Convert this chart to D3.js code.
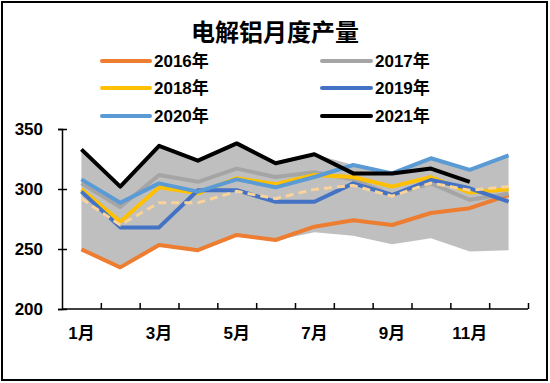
<!DOCTYPE html>
<html><head><meta charset="utf-8">
<script src="https://cdn.jsdelivr.net/npm/d3@7"></script>
<style>
html,body{margin:0;padding:0;background:#fff;}
svg{display:block;}
text{font-family:"Liberation Sans","Noto Sans CJK SC",sans-serif;font-weight:bold;fill:#000;}
</style></head>
<body>
<svg id="chart" width="550" height="383"></svg>
<script>
const title = "电解铝月度产量";
const months = ["1月","2月","3月","4月","5月","6月","7月","8月","9月","10月","11月","12月"];
const xTickLabels = ["1月","3月","5月","7月","9月","11月"];
const yTicks = [200, 250, 300, 350];

const s2016 = [249.7, 234.7, 253.3, 249, 261.7, 257.5, 268.6, 274, 270, 280, 284, 295];
const s2017 = [304.7, 285, 311.7, 306, 317, 310, 314, 308, 295, 304.7, 291, 296];
const s2018 = [299.7, 272.8, 301.4, 296.4, 309, 304, 311.7, 310, 302, 310, 297, 299.7];
const s2019 = [297.8, 268, 268, 299, 299, 289.4, 289.4, 304.7, 295, 307.5, 300.6, 289.4];
const s2020 = [308, 288.6, 304.7, 297.8, 308, 301.4, 310, 320, 313, 325.6, 316, 328];
const s2021 = [333, 302, 336, 323.6, 338, 321.4, 329, 313, 313, 317, 306];
const sMean = [292, 270, 288.6, 288.6, 298, 292, 299.7, 303, 294, 305, 299, 302];
const bandTop = [333, 302, 336, 323.6, 338, 321.4, 329, 320, 313, 325.6, 316, 328];
const bandBottom = [249.7, 234.7, 253.3, 249, 261.7, 257, 264, 261, 254, 259, 248, 249];

const seriesNames = ["2016年","2017年","2018年","2019年","2020年","2021年"];
const seriesData = [s2016, s2017, s2018, s2019, s2020, s2021];
const seriesColors = ["#ED7D31","#A5A5A5","#FFC000","#4472C4","#5B9BD5","#000000"];

const svg = d3.select("#chart");

// frame
svg.append("rect").attr("x",2).attr("y",2).attr("width",545).attr("height",378)
  .attr("fill","#fff").attr("stroke","#000").attr("stroke-width",2);

const x = d3.scaleBand().domain(months).range([62, 528]).padding(0);
const xEdge = d3.scaleLinear().domain([0, 12]).range([62, 528]);
const y = d3.scaleLinear().domain([200, 350]).range([309, 129]);
const cx = i => x(months[i]) + x.bandwidth()/2;

// band
const area = d3.area().x((d,i)=>cx(i)).y0((d,i)=>y(bandBottom[i])).y1(d=>y(d));
svg.append("path").datum(bandTop).attr("d", area).attr("fill","#BFBFBF");

// lines
const line = d3.line().x((d,i)=>cx(i)).y(d=>y(d));
seriesData.forEach((s, k) => {
  if (k === 5) return;
  svg.append("path").datum(s).attr("d", line).attr("fill","none")
    .attr("stroke", seriesColors[k]).attr("stroke-width", 4).attr("stroke-linejoin","round");
});
svg.append("path").datum(sMean).attr("d", line).attr("fill","none")
  .attr("stroke","#F9D39A").attr("stroke-width",3).attr("stroke-dasharray","8,5");
svg.append("path").datum(s2021).attr("d", line).attr("fill","none")
  .attr("stroke", seriesColors[5]).attr("stroke-width", 4).attr("stroke-linejoin","round");

// y axis
const yAxis = svg.append("g").attr("transform","translate(62,0)")
  .call(d3.axisLeft(y).tickValues(yTicks).tickSize(4).tickPadding(15).tickFormat(d3.format("d")));
yAxis.select(".domain").attr("stroke","#000").attr("stroke-width",1.5);
yAxis.selectAll(".tick line").attr("x1",-4).attr("x2",5).attr("stroke-width",1.5);
yAxis.selectAll("text").style("font-size","17px").style("font-family",'"Liberation Sans","Noto Sans CJK SC",sans-serif').style("font-weight","bold");

// x axis ticks (band edges, pointing up)
const xAxis = svg.append("g").attr("transform","translate(0,309)")
  .call(d3.axisBottom(xEdge).tickValues(d3.range(1,13)).tickSize(-6).tickFormat(""));
xAxis.select(".domain").attr("stroke","#000").attr("stroke-width",1.5).attr("d","M62,0H528");
xAxis.selectAll(".tick line").attr("stroke-width",1.5);

// x labels
const xLab = svg.append("g").attr("transform","translate(0,309)")
  .call(d3.axisBottom(x).tickValues(xTickLabels).tickSize(0).tickPadding(18));
xLab.select(".domain").remove();
xLab.selectAll("text").style("font-size","17px").style("font-family",'"Liberation Sans","Noto Sans CJK SC",sans-serif').style("font-weight","bold");

// title
svg.append("text").attr("x",275).attr("y",41).attr("text-anchor","middle")
  .style("font-size","24px").style("font-family",'"Noto Sans CJK SC",sans-serif').text(title);

// legend
const legRows = [61, 88, 116];
const legCols = [[102,150,154],[322,371,375]];
seriesNames.forEach((name, k) => {
  const r = Math.floor(k/2), c = k%2;
  const g = svg.append("g");
  g.append("line").attr("x1",legCols[c][0]).attr("x2",legCols[c][1])
    .attr("y1",legRows[r]).attr("y2",legRows[r])
    .attr("stroke",seriesColors[k]).attr("stroke-width",4).attr("stroke-linecap","round");
  g.append("text").attr("x",legCols[c][2]).attr("y",legRows[r]).attr("dy","0.36em")
    .style("font-size","17px").text(name);
});
</script>
</body></html>
